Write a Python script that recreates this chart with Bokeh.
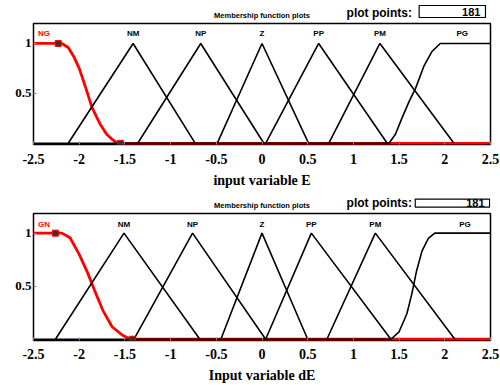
from bokeh.plotting import figure
from bokeh.layouts import column
from bokeh.models import Label, FixedTicker, Range1d
from bokeh.embed import file_html
from bokeh.resources import INLINE

# ---- shared axis data ----
x_ticks = [-2.5, -2.0, -1.5, -1.0, -0.5, 0.0, 0.5, 1.0, 1.5, 2.0, 2.5]
x_tick_labels = ["-2.5", "-2", "-1.5", "-1", "-0.5", "0", "0.5", "1", "1.5", "2", "2.5"]
y_ticks = [0.5, 1.0]
y_tick_labels = ["0.5", "1"]
tri_y = [0, 1, 0]

# ---- panel 1 : input variable E ----
e_names = ["NG", "NM", "NP", "Z", "PP", "PM", "PG"]
e_nm = [-2.12, -1.41, -0.73]
e_np = [-1.36, -0.67, 0.02]
e_z = [-0.49, 0.0, 0.51]
e_pp = [0.04, 0.62, 1.37]
e_pm = [0.73, 1.29, 2.10]
e_ng_x = [-2.5, -2.19, -2.12, -2.06, -2.0, -1.93, -1.86, -1.77, -1.70, -1.64, -1.58, 2.5]
e_ng_y = [1.0, 1.0, 0.96, 0.87, 0.75, 0.56, 0.36, 0.19, 0.09, 0.04, 0.0, 0.0]
e_pg_x = [-2.5, 1.39, 1.46, 1.53, 1.61, 1.68, 1.77, 1.86, 1.95, 2.5]
e_pg_y = [0.0, 0.0, 0.09, 0.25, 0.42, 0.55, 0.77, 0.92, 1.0, 1.0]
e_handles_x = [-2.23, -1.55]
e_handles_y = [1.0, 0.0]

# ---- panel 2 : input variable dE ----
de_names = ["GN", "NM", "NP", "Z", "PP", "PM", "PG"]
de_nm = [-2.26, -1.51, -0.68]
de_np = [-1.40, -0.76, 0.04]
de_z = [-0.45, 0.0, 0.50]
de_pp = [0.04, 0.54, 1.41]
de_pm = [0.71, 1.24, 2.11]
de_gn_x = [-2.5, -2.19, -2.10, -2.0, -1.91, -1.83, -1.74, -1.64, -1.53, -1.44, 2.5]
de_gn_y = [1.0, 1.0, 0.956, 0.80, 0.63, 0.456, 0.27, 0.118, 0.04, 0.0, 0.0]
de_pg_x = [-2.5, 1.41, 1.50, 1.585, 1.64, 1.69, 1.75, 1.82, 1.89, 2.5]
de_pg_y = [0.0, 0.0, 0.07, 0.24, 0.43, 0.64, 0.83, 0.95, 1.0, 1.0]
de_handles_x = [-2.26, -1.42]
de_handles_y = [1.0, 0.0]

plot_points = "181"
panel_title = "Membership function plots"

SERIF = "Liberation Serif"
SANS = "Liberation Sans"


def header(width, height, left, right, title_y, pp_x, pp_y, box_x, box_y, pad):
    h = figure(width=width, height=height, output_backend="svg", toolbar_location=None,
               x_range=Range1d(-2.5, 2.5), y_range=Range1d(0, 1),
               x_axis_location=None, y_axis_location=None,
               min_border_left=left, min_border_right=right,
               min_border_top=0, min_border_bottom=0)
    h.outline_line_color = None
    h.grid.visible = False
    h.add_layout(Label(x=0.0, y=title_y, text=panel_title, text_align="center",
                       text_baseline="middle", text_font=SANS, text_font_style="bold",
                       text_font_size="7.5px", text_color="black"))
    h.add_layout(Label(x=pp_x, y=pp_y, text="plot points:", text_align="right",
                       text_baseline="middle", text_font=SANS, text_font_style="bold",
                       text_font_size="12px", text_color="black"))
    h.add_layout(Label(x=box_x, y=box_y, text=plot_points, text_align="right",
                       text_baseline="middle", text_font=SANS, text_font_style="bold",
                       text_font_size="11px", text_color="black",
                       border_line_color="black", border_line_width=1.2,
                       background_fill_color="white", padding=pad))
    return h


def build(width, height, borders, ytop, tris, z_x, z_y, s_x, s_y, hx, hy, names,
          name_y, name_pos, xlabel, tick_standoff, label_standoff):
    left, right, top, bottom = borders
    p = figure(width=width, height=height, output_backend="svg", toolbar_location=None,
               x_range=Range1d(-2.5, 2.5), y_range=Range1d(-0.012, ytop),
               min_border_left=left, min_border_right=right,
               min_border_top=top, min_border_bottom=bottom)
    p.background_fill_color = "white"
    p.border_fill_color = "white"
    p.outline_line_color = "black"
    p.outline_line_width = 1.5
    p.grid.visible = False

    xa = p.xaxis[0]
    xa.ticker = FixedTicker(ticks=x_ticks)
    xa.major_label_overrides = {t: l for t, l in zip(x_ticks, x_tick_labels)}
    xa.axis_line_color = None
    xa.major_tick_in = 3
    xa.major_tick_out = 0
    xa.minor_tick_line_color = None
    xa.major_tick_line_color = "#888888"
    xa.major_label_standoff = tick_standoff
    xa.major_label_text_font = SERIF
    xa.major_label_text_font_style = "bold"
    xa.major_label_text_font_size = "14px"
    xa.major_label_text_color = "black"
    xa.axis_label = xlabel
    xa.axis_label_text_font = SERIF
    xa.axis_label_text_font_style = "bold"
    xa.axis_label_text_font_size = "14px"
    xa.axis_label_text_color = "black"
    xa.axis_label_standoff = label_standoff

    ya = p.yaxis[0]
    ya.ticker = FixedTicker(ticks=y_ticks)
    ya.major_label_overrides = {t: l for t, l in zip(y_ticks, y_tick_labels)}
    ya.axis_line_color = None
    ya.major_tick_in = 3
    ya.major_tick_out = 0
    ya.minor_tick_line_color = None
    ya.major_tick_line_color = "#888888"
    ya.major_label_standoff = 2
    ya.major_label_text_font = SERIF
    ya.major_label_text_font_style = "bold"
    ya.major_label_text_font_size = "13px"
    ya.major_label_text_color = "black"

    p.add_layout(Label(x=-2.5, y=0, text="0", text_align="right", text_baseline="middle",
                       x_offset=-3, text_font=SANS, text_font_size="6px", text_color="black"))

    p.line(z_x, z_y, line_color="red", line_width=2.8)
    for t in tris:
        p.line(t, tri_y, line_color="black", line_width=1.6)
    p.line(s_x, s_y, line_color="black", line_width=1.6)
    p.scatter(hx, hy, marker="square", size=6, fill_color="#333333", line_color="red",
              line_width=1)

    for nm, xp in zip(names, name_pos):
        align = "left" if nm in ("NG", "GN") else "center"
        p.add_layout(Label(x=xp, y=name_y, text=nm, text_align=align, text_baseline="middle",
                           text_font=SANS, text_font_style="bold", text_font_size="8px",
                           text_color="red" if nm in ("NG", "GN") else "black"))
    return p


# padding order: (left, right, top, bottom)
h1 = header(500, 22, 33, 10, 0.32, 1.64, 0.45, 2.445, 0.5, (43, 5, 2, 2))
p1 = build(500, 168, (33, 10, 1, 46), 1.2,
           [e_nm, e_np, e_z, e_pp, e_pm], e_ng_x, e_ng_y, e_pg_x, e_pg_y,
           e_handles_x, e_handles_y, e_names, 1.10,
           [-2.45, e_nm[1], e_np[1], e_z[1], e_pp[1], e_pm[1], 2.19],
           "input variable E", 9, 6)
h2 = header(500, 22, 30, 7, 0.32, 1.64, 0.45, 2.49, 0.43, (51, 5, 0, 0))
p2 = build(500, 173, (30, 7, 1, 44), 1.185,
           [de_nm, de_np, de_z, de_pp, de_pm], de_gn_x, de_gn_y, de_pg_x, de_pg_y,
           de_handles_x, de_handles_y, de_names, 1.08,
           [-2.45, de_nm[1], de_np[1], de_z[1], de_pp[1], de_pm[1], 2.22],
           "Input variable dE", 8, 6)

layout = column(h1, p1, h2, p2, spacing=0)
open("out.html", "w").write(file_html(layout, INLINE))
